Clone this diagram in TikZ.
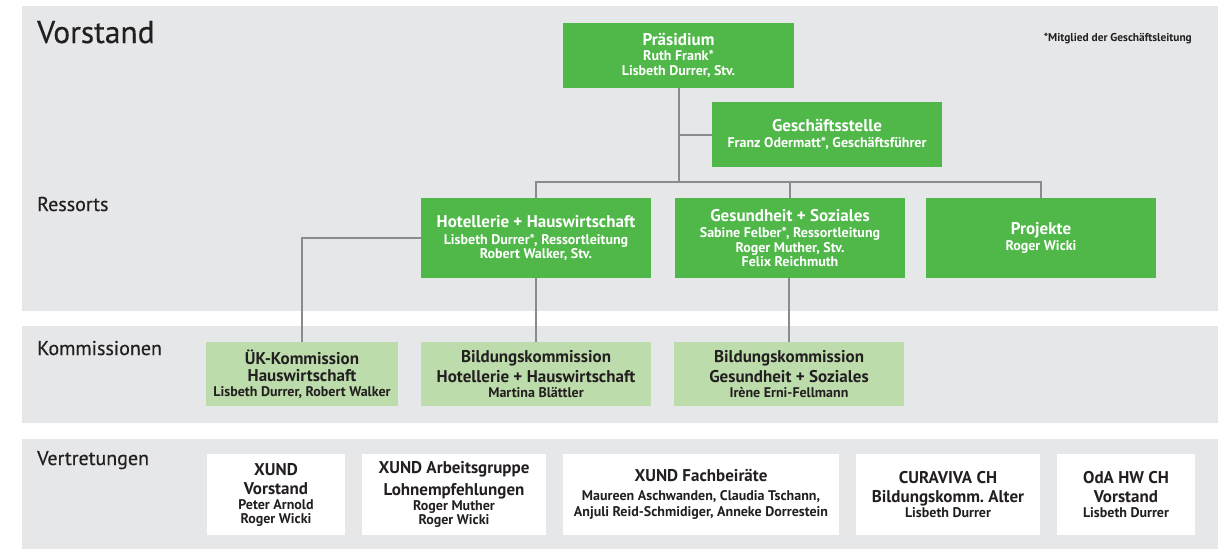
\documentclass[tikz,border=0pt]{standalone}
\usepackage{fontspec}
\usetikzlibrary{calc}
\setmainfont{PT Sans}
\newfontfamily\labelfont[FakeBold=0.4]{PT Sans}
\frenchspacing
\definecolor{dg}{HTML}{4FB848}
\definecolor{lg}{HTML}{BCDCAB}
\definecolor{panelgrey}{HTML}{E6E7E8}
\definecolor{conngrey}{HTML}{8A8B8D}
\definecolor{ink}{HTML}{231F20}
\newcommand\ttl[1]{{\fontsize{17}{17}\selectfont #1}}
\begin{document}
\begin{tikzpicture}[x=1pt,y=-1pt,
  box/.style={inner sep=0pt, align=center, font=\bfseries\fontsize{14}{14}\selectfont},
  ressortbox/.style={box, fill=dg, text=white},
  kommbox/.style={box, fill=lg, text=ink},
  vertbox/.style={box, fill=white, text=ink},
  conn/.style={draw=conngrey, line width=2pt},
  seclabel/.style={anchor=base west, inner sep=0pt, text=ink, font=\labelfont\fontsize{20}{22}\selectfont},
  panel/.style={fill=panelgrey}]
\useasboundingbox (0,0) rectangle (1226,549);
\fill[panel] (22,6) rectangle (1218,311);
\fill[panel] (22,326) rectangle (1218,423);
\fill[panel] (22,439) rectangle (1218,549);

\node[seclabel, font=\labelfont\fontsize{31.5}{34}\selectfont] (lvor) at (37,43) {Vorstand};
\node[seclabel] (lres) at (37,211) {Ressorts};
\node[seclabel] (lkom) at (37,355) {Kommissionen};
\node[seclabel] (lver) at (37,465) {Vertretungen};
\node[anchor=base east, inner sep=0pt, text=ink, font=\bfseries\fontsize{11.4}{13}\selectfont] (note) at (1192,41) {*Mitglied der Geschäftsleitung};

% Vorstand / Ressorts
\node[ressortbox, minimum width=231pt, minimum height=65pt] (pres) at (678.5,55.5)
  {\ttl{Präsidium}\\[1.5pt] Ruth Frank*\\[1pt] Lisbeth Durrer, Stv.};
\node[ressortbox, minimum width=230pt, minimum height=65pt] (gs) at (827,134.5)
  {\ttl{Geschäftsstelle}\\[2pt] Franz Odermatt*, Geschäftsführer};
\node[ressortbox, minimum width=230pt, minimum height=80pt] (hot) at (536,238)
  {\ttl{Hotellerie + Hauswirtschaft}\\[2.6pt] Lisbeth Durrer*, Ressortleitung\\ Robert Walker, Stv.};
\node[ressortbox, minimum width=230pt, minimum height=80pt] (ges) at (790,238)
  {\ttl{Gesundheit + Soziales}\\[2pt] Sabine Felber*, Ressortleitung\\[1pt] Roger Muther, Stv.\\ Felix Reichmuth};
\node[ressortbox, minimum width=230pt, minimum height=80pt] (proj) at (1041,238)
  {\ttl{Projekte}\\[2pt] Roger Wicki};

% Kommissionen
\node[kommbox, minimum width=192pt, minimum height=64pt] (uek) at (302,374)
  {\ttl{ÜK-Kommission}\\[3.5pt]\ttl{Hauswirtschaft}\\[0.5pt] Lisbeth Durrer, Robert Walker};
\node[kommbox, minimum width=230pt, minimum height=64pt] (bkh) at (536,374)
  {\ttl{Bildungskommission}\\[3.5pt]\ttl{Hotellerie + Hauswirtschaft}\\[0.5pt] Martina Blättler};
\node[kommbox, minimum width=230pt, minimum height=64pt] (bkg) at (789,374)
  {\ttl{Bildungskommission}\\[3.5pt]\ttl{Gesundheit + Soziales}\\[0.5pt] Irène Erni-Fellmann};

% Vertretungen
\node[vertbox, minimum width=138pt, minimum height=81pt] (xv) at (276,494.5)
  {\ttl{XUND}\\[5pt]\ttl{Vorstand}\\[1pt] Peter Arnold\\ Roger Wicki};
\node[vertbox, minimum width=184pt, minimum height=81pt] (xa) at (454,494.5)
  {\ttl{XUND Arbeitsgruppe}\\[5pt]\ttl{Lohnempfehlungen}\\[1pt] Roger Muther\\ Roger Wicki};
\node[vertbox, minimum width=276pt, minimum height=81pt] (xf) at (701,494.5)
  {\ttl{XUND Fachbeiräte}\\[5pt] Maureen Aschwanden, Claudia Tschann,\\[2pt] Anjuli Reid-Schmidiger, Anneke Dorrestein};
\node[vertbox, minimum width=184pt, minimum height=81pt] (cur) at (948,494.5)
  {\ttl{CURAVIVA CH}\\[5pt]\ttl{Bildungskomm. Alter}\\[1pt] Lisbeth Durrer};
\node[vertbox, minimum width=138pt, minimum height=81pt] (oda) at (1126,494.5)
  {\ttl{OdA HW CH}\\[5pt]\ttl{Vorstand}\\[1pt] Lisbeth Durrer};

% connectors
\coordinate (j) at ($(pres.south)+(0,94)$);
\draw[conn] (pres.south) -- (j);
\draw[conn] (pres.south |- gs.west) -- (gs.west);
\draw[conn] (hot.north) -- (hot.north |- j) -- (proj.north |- j) -- (proj.north);
\draw[conn] (ges.north |- j) -- (ges.north);
\draw[conn] (hot.west) -| (uek.north);
\draw[conn] (hot.south) -- (bkh.north);
\draw[conn] (bkg.north |- ges.south) -- (bkg.north);
\end{tikzpicture}
\end{document}
